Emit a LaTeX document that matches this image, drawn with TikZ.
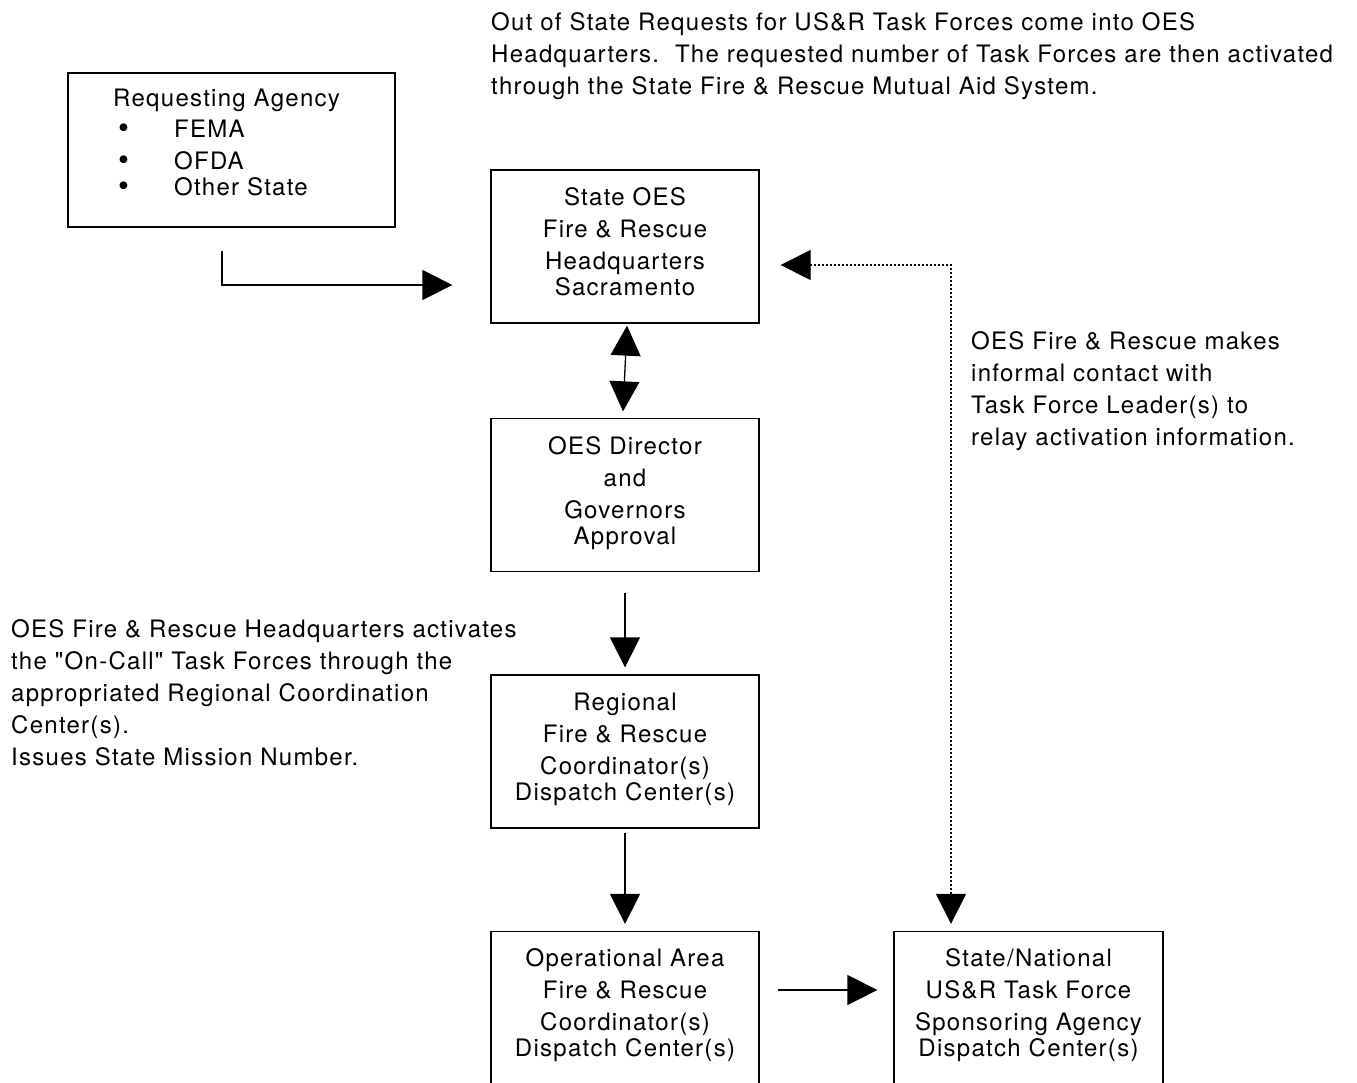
\documentclass[tikz,border=0pt]{standalone}
\usepackage{fontspec}
\setmainfont{TeX Gyre Heros}[LetterSpace=5.3,Ligatures=TeXOff]
\usetikzlibrary{arrows.meta,calc}
\begin{document}
\begin{tikzpicture}[x=1pt,y=-1pt,
  box/.style={draw,line width=1.3pt,minimum width=268pt,minimum height=153pt,inner sep=0pt},
  boxtxt/.style={inner sep=0pt,align=center,font=\fontsize{24}{32}\selectfont},
  txt/.style={inner sep=0pt,align=left,anchor=north west,font=\fontsize{24}{32}\selectfont},
  arr/.style={line width=1.3pt,-{Triangle[length=30pt,width=30pt]}},
  darr/.style={line width=1.3pt,{Triangle[length=30pt,width=30pt]}-{Triangle[length=30pt,width=30pt]}},
  dotarr/.style={line width=1.3pt,dash pattern=on 2.5pt off 1.5pt,{Triangle[length=30pt,width=30pt]}-{Triangle[length=30pt,width=30pt]}},
  bul/.style={}
]
\useasboundingbox (0,0) rectangle (1357,1082);
\node[box,minimum width=327pt,minimum height=154pt] (req) at (231.5,150) {};
\node[txt] (reqt) at (113,89) {Requesting Agency\\[-1pt]
\hspace*{5pt}\makebox[56pt][l]{\raisebox{-0.5pt}{\scalebox{1.3}{\textbullet}}}FEMA\\
\hspace*{5pt}\makebox[56pt][l]{\raisebox{-0.5pt}{\scalebox{1.3}{\textbullet}}}OFDA\\[-6pt]
\hspace*{5pt}\makebox[56pt][l]{\raisebox{-0.5pt}{\scalebox{1.3}{\textbullet}}}Other State};
\node[box] (oes) at (625,246.5) {};
\node[boxtxt] (oest) at (625,241.5) {State OES\\Fire \& Rescue\\Headquarters\\[-6pt]Sacramento};
\node[box] (dir) at (625,495) {};
\node[boxtxt] (dirt) at (625,493) {OES Director\\and\\Governors\\[-6pt]Approval};
\node[box] (reg) at (625,751.5) {};
\node[boxtxt] (regt) at (625,749.5) {Regional\\Fire \& Rescue\\Coordinator(s)\\[-6pt]Dispatch Center(s)};
\node[box] (ops) at (625,1008) {};
\node[boxtxt] (opst) at (625,1005.5) {Operational Area\\Fire \& Rescue\\Coordinator(s)\\[-6pt]Dispatch Center(s)};
\node[box,minimum width=269pt] (sn) at (1028.5,1008) {};
\node[boxtxt] (snt) at (1028.5,1005.5) {State/National\\US\&R Task Force\\Sponsoring Agency\\[-6pt]Dispatch Center(s)};
\node[txt] (top) at (491,12) {Out of State Requests for US\&R Task Forces come into OES\\
Headquarters.\ \ The requested number of Task Forces are then activated\\
through the State Fire \& Rescue Mutual Aid System.};
\node[txt] (right) at (971,331) {OES Fire \& Rescue makes\\informal contact with\\Task Force Leader(s) to\\relay activation information.};
\node[txt] (left) at (11,619) {OES Fire \& Rescue Headquarters activates\\the "On-Call" Task Forces through the\\appropriated Regional Coordination\\Center(s).\\Issues State Mission Number.};
\draw[arr] ([xshift=-9.5pt,yshift=-23pt]req.south) |- ([xshift=-38pt,yshift=-38.5pt]oes.west);
\draw[darr] ([xshift=2pt,yshift=-2pt]oes.south) -- ([xshift=-2pt,yshift=6.5pt]dir.north);
\draw[arr] ([yshift=-20.5pt]dir.south) -- ([yshift=7pt]reg.north);
\draw[arr] ([yshift=-4pt]reg.south) -- ([yshift=7pt]ops.north);
\draw[arr] ([xshift=18pt,yshift=18pt]ops.east) -- ([xshift=-16pt,yshift=18pt]sn.west);
\draw[dotarr] ([xshift=-77.5pt,yshift=7pt]sn.north) |- ([xshift=21pt,yshift=-18.5pt]oes.east);
\end{tikzpicture}
\end{document}
